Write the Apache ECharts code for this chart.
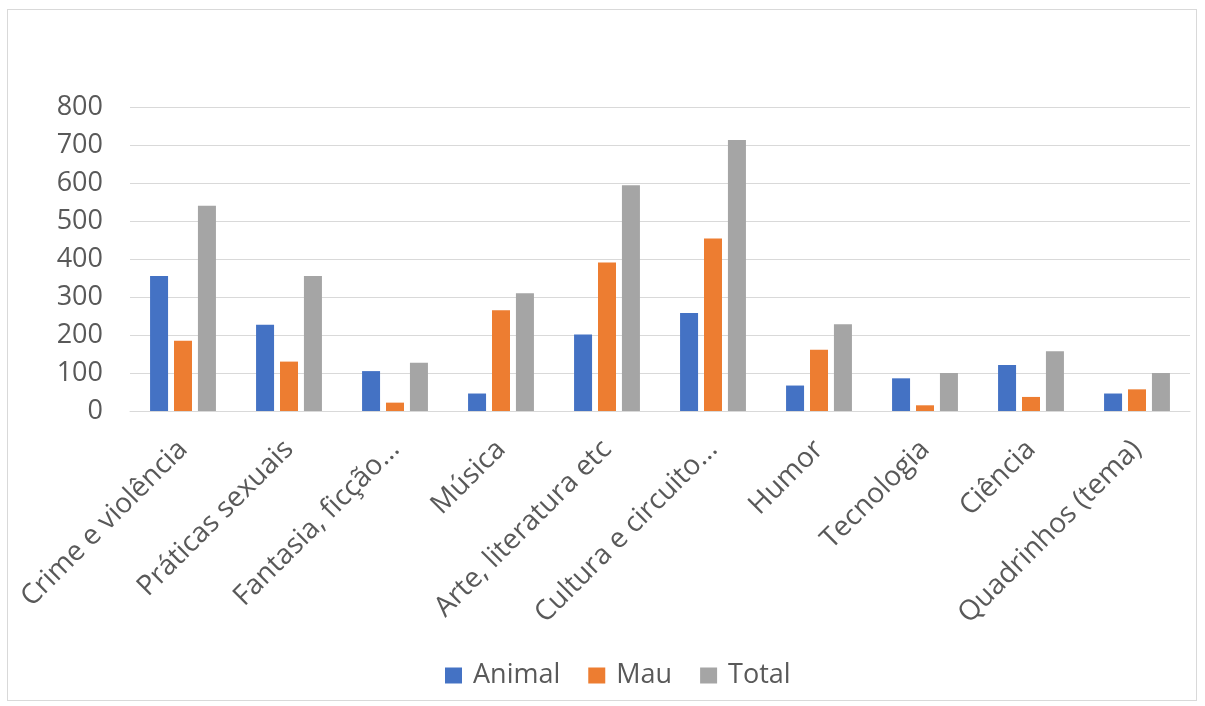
<!DOCTYPE html>
<html>
<head>
<meta charset="utf-8">
<script src="https://cdn.jsdelivr.net/npm/echarts@6/dist/echarts.min.js"></script>
<style>
  html, body { margin: 0; padding: 0; background: #fff; }
  #frame {
    position: absolute; left: 7px; top: 9px; width: 1188px; height: 690px;
    border: 1px solid #d9d9d9;
  }
  #chart { position: absolute; left: 0; top: 0; width: 1205px; height: 706px; }
</style>
</head>
<body>
<div id="frame"></div>
<div id="chart"></div>
<script>
const categories = ['Crime e violência', 'Práticas sexuais', 'Fantasia, ficção...', 'Música',
  'Arte, literatura etc', 'Cultura e circuito...', 'Humor', 'Tecnologia', 'Ciência', 'Quadrinhos (tema)']
const animal = [355, 227, 105, 46, 201, 258, 67, 86, 121, 46]
const mau = [185, 130, 22, 265, 391, 454, 161, 15, 37, 57]
const total = [540, 355, 127, 310, 594, 713, 228, 100, 157, 100]
const seriesNames = ['Animal', 'Mau', 'Total']
const colors = ['#4472C4', '#ED7D31', '#A5A5A5']

const textColor = '#595959'
const font = '"Open Sans", "Noto Sans", sans-serif'

const chart = echarts.init(document.getElementById('chart'))

chart.setOption({
  animation: false,
  color: colors,
  textStyle: { fontFamily: font },
  grid: { left: 130, right: 15, top: 107, bottom: 295 },
  legend: {
    top: 657,
    left: 440,
    itemWidth: 17,
    itemHeight: 16,
    itemGap: 28,
    icon: 'rect',
    textStyle: { color: textColor, fontSize: 27, fontFamily: font, padding: [0, 0, 0, 6] }
  },
  xAxis: {
    type: 'category',
    data: categories,
    axisLine: { lineStyle: { color: '#d9d9d9' } },
    axisTick: { show: false },
    axisLabel: {
      rotate: 45,
      interval: 0,
      margin: 34,
      color: textColor,
      fontSize: 28,
      fontFamily: font
    }
  },
  yAxis: {
    type: 'value',
    min: 0,
    max: 800,
    interval: 100,
    axisLine: { show: false },
    axisTick: { show: false },
    splitLine: { lineStyle: { color: '#d9d9d9' } },
    axisLabel: { color: textColor, fontSize: 27, margin: 27, fontFamily: font }
  },
  series: [
    { name: seriesNames[0], type: 'bar', data: animal, barWidth: 18, barGap: '33%' },
    { name: seriesNames[1], type: 'bar', data: mau, barWidth: 18, barGap: '33%' },
    { name: seriesNames[2], type: 'bar', data: total, barWidth: 18, barGap: '33%' }
  ]
})
</script>
</body>
</html>
